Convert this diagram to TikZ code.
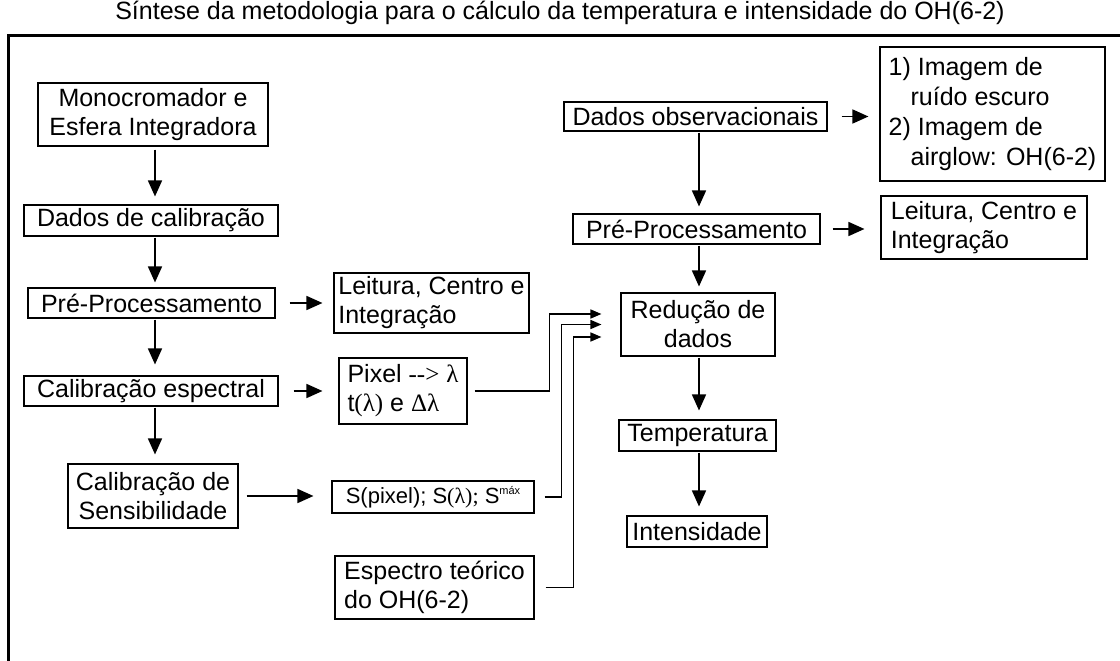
\documentclass[tikz,border=0pt]{standalone}
\usepackage{fontspec}
\setmainfont{Liberation Sans}
\newfontfamily\greekfont{Liberation Serif}
\usetikzlibrary{positioning, arrows.meta}
\newcommand{\lam}{{\greekfont λ}}

\begin{document}
\begin{tikzpicture}[x=1pt, y=-1pt,
    box/.style={draw, line width=1.1pt, inner sep=0pt, font=\fontsize{25}{29}\selectfont},
    arr/.style={line width=1.6pt, arrows={-Triangle[length=16pt, width=14pt]}},
    link/.style={line width=1.6pt, arrows={-Triangle[length=11pt, width=9pt]}}]
      \useasboundingbox (0,0) rectangle (1120,661);

      % Title and frame
      \node[font=\fontsize{25}{29}\selectfont] at (560,13) (title) {Síntese da metodologia para o cálculo da temperatura e intensidade do OH(6-2)};
      \draw[line width=3pt] (1120,36) -- (8,36) -- (8,661);

      % Calibration column
      \node[box, minimum width=230pt, minimum height=63pt, align=center] at (153,114.5) (mono) {Monocromador e\\Esfera Integradora};
      \node[box, minimum width=254pt, minimum height=31pt] at (151,220.5) (calib) {Dados de calibração};
      \node[box, minimum width=247pt, minimum height=30pt] at (151.5,303) (preA) {Pré-Processamento};
      \node[box, minimum width=254pt, minimum height=30pt] at (151,391) (espec) {Calibração espectral};
      \node[box, minimum width=170pt, minimum height=64pt, align=center] at (153,496) (sens) {Calibração de\\Sensibilidade};

      \node[box, minimum width=195pt, minimum height=60pt, align=left] at (431.5,303) (leitA) {Leitura, Centro e\\Integração};
      \node[box, minimum width=128pt, minimum height=66pt, align=left] at (403,391) (pixel) {Pixel {\greekfont -{}->} \lam\\t{\greekfont(λ)} e {\greekfont Δλ}};
      \node[box, minimum width=202pt, minimum height=32pt, font=\fontsize{22}{26}\selectfont] at (433,497) (spix) {S(pixel); S{\greekfont(λ);} S\raisebox{9pt}{\fontsize{11}{11}\selectfont máx}};
      \node[box, minimum width=199pt, minimum height=63pt, align=left] at (434.5,587.5) (teor) {Espectro teórico\\do OH(6-2)};

      % Observation column
      \node[box, minimum width=263pt, minimum height=29pt] at (695.5,116.5) (obs) {Dados observacionais};
      \node[box, minimum width=225pt, minimum height=134pt, align=left, font=\fontsize{25}{30}\selectfont] at (992.5,114) (imag) {1) Imagem de\\\hspace{22pt}ruído escuro\\2) Imagem de\\\hspace{22pt}airglow: OH(6-2)};
      \node[box, minimum width=247pt, minimum height=30pt] at (696.5,229) (preB) {Pré-Processamento};
      \node[box, minimum width=206pt, minimum height=63pt, align=left] at (984,227.5) (leitB) {Leitura, Centro e\\Integração};
      \node[box, minimum width=154pt, minimum height=63pt, align=center] at (698,324.5) (red) {Redução de\\dados};
      \node[box, minimum width=157pt, minimum height=31pt] at (697.5,435.5) (temp) {Temperatura};
      \node[box, minimum width=140pt, minimum height=31pt] at (697,531.5) (inten) {Intensidade};

      \coordinate (colA) at (155,0);
      \coordinate (colB) at (699,0);

      \draw[arr, shorten <=3pt, shorten >=8pt] (mono.south -| colA) -- (calib.north -| colA);
      \draw[arr, shorten <=1pt, shorten >=5pt] (calib.south -| colA) -- (preA.north -| colA);
      \draw[arr, shorten <=1pt, shorten >=11pt] (preA.south -| colA) -- (espec.north -| colA);
      \draw[arr, shorten <=1pt, shorten >=9pt] (espec.south -| colA) -- (sens.north -| colA);

      \draw[arr, shorten <=14pt, shorten >=11pt] (preA.east) -- (preA.east -| leitA.west);
      \draw[arr, shorten <=15pt, shorten >=16pt] (espec.east) -- (espec.east -| pixel.west);
      \draw[arr, shorten <=8pt, shorten >=18pt] (sens.east) -- (sens.east -| spix.west);

      \draw[arr, shorten <=14pt, shorten >=11pt] (obs.east) -- (obs.east -| imag.west);
      \draw[arr, shorten <=12pt, shorten >=16pt] (preB.east) -- (preB.east -| leitB.west);

      \draw[arr, shorten <=1pt, shorten >=7pt] (obs.south -| colB) -- (preB.north -| colB);
      \draw[arr, shorten <=1pt, shorten >=6pt] (preB.south -| colB) -- (red.north -| colB);
      \draw[arr, shorten <=1pt, shorten >=9pt] (red.south -| colB) -- (temp.north -| colB);
      \draw[arr, shorten <=1pt, shorten >=9pt] (temp.south -| colB) -- (inten.north -| colB);

      % Inputs to the data reduction
      \draw[link, shorten <=7pt, shorten >=19pt] (pixel.east) -- ++(82,0) |- ([yshift=10.5pt]red.west);
      \draw[link, shorten <=10pt, shorten >=19pt] (spix.east) -- ++(27,0) |- (red.west);
      \draw[link, shorten <=11pt, shorten >=19pt] (teor.east) -- ++(39,0) |- ([yshift=-12.5pt]red.west);
    \end{tikzpicture}
\end{document}
